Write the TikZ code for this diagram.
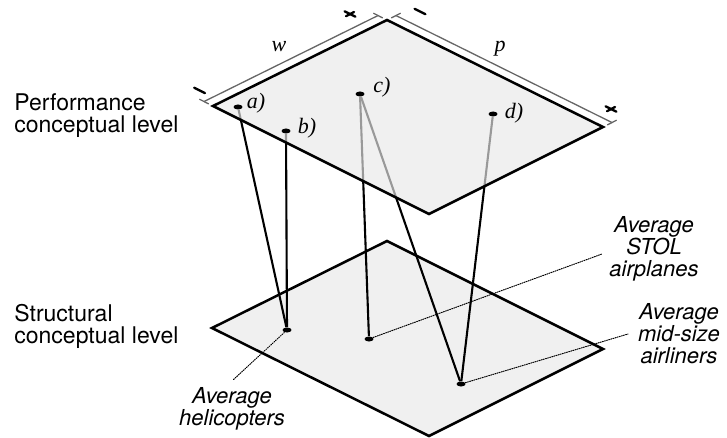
\documentclass[tikz,border=0pt]{standalone}
\usepackage{fontspec}
\setmainfont{TeX Gyre Heros}
\newfontfamily\labelfont{Liberation Serif}
\usetikzlibrary{shapes.geometric}

\pgfdeclarelayer{below}
\pgfdeclarelayer{plane}
\pgfsetlayers{below,plane,main}

\tikzset{
  level/.style={line width=1.25pt, line join=miter},
  rod/.style={line width=1.05pt},
  seen/.style={line width=1.05pt, black!40},
  dimline/.style={black!60, line width=0.65pt},
  sign/.style={line width=1.15pt},
  dot/.style={ellipse, fill=black, inner sep=0pt, minimum width=4.5pt, minimum height=2.5pt},
  ptlabel/.style={font=\labelfont\itshape\fontsize{11}{11}\selectfont, inner sep=0pt},
  levellabel/.style={font=\fontsize{11.5}{11}\selectfont, align=left, inner sep=0pt, anchor=west},
  note/.style={font=\itshape\fontsize{11}{11}\selectfont, align=center, inner sep=0pt},
  leader/.style={line width=0.5pt, dash pattern=on 0.5pt off 0.6pt}
}

\begin{document}
\begin{tikzpicture}[x=0.5pt,y=-0.5pt,line cap=round]
\useasboundingbox (0,0) rectangle (727,438);

% --- Corners of the two levels ---
\coordinate (uL) at (213,106);
\coordinate (uT) at (387,20);
\coordinate (uR) at (603,127);
\coordinate (uB) at (429,214);
\coordinate (lL) at (212,328);
\coordinate (lT) at (387,241);
\coordinate (lR) at (603,349);
\coordinate (lB) at (429,436);

% --- Points ---
\node[dot] (a) at (238,107) {};
\node[dot] (b) at (286,131) {};
\node[dot] (c) at (360,94) {};
\node[dot] (d) at (493,114) {};
\node[dot] (heli) at (287,330) {};
\node[dot] (stol) at (369,339) {};
\node[dot] (air) at (461,384) {};

\node[ptlabel] (la) at (256,103) {a)};
\node[ptlabel] (lb) at (307,128) {b)};
\node[ptlabel] (lc) at (382,87) {c)};
\node[ptlabel] (ld) at (514,113) {d)};

% --- Lower level and rods ---
\begin{pgfonlayer}{below}
\draw[level, fill=black!6] (lL) -- (lT) -- (lR) -- (lB) -- cycle;
\foreach \s/\t in {a/heli,b/heli,c/stol,c/air,d/air}
  \draw[rod] (\s) -- (\t);
\end{pgfonlayer}

% --- Upper level (rods seen through it) ---
\begin{pgfonlayer}{plane}
\fill[black!6] (uL) -- (uT) -- (uR) -- (uB) -- cycle;
\begin{scope}
  \clip (uL) -- (uT) -- (uR) -- (uB) -- cycle;
  \foreach \s/\t in {a/heli,b/heli,c/stol,c/air,d/air}
    \draw[seen] (\s) -- (\t);
\end{scope}
\draw[level] (uL) -- (uT) -- (uR) -- (uB) -- cycle;
\end{pgfonlayer}

% --- Dimensions w and p ---
\draw[dimline] (204.1,101.5) -- (378.1,15.5);
\draw[dimline] (208.5,103.8) -- (199.6,99.3);
\draw[dimline] (382.5,17.8) -- (373.6,13.3);
\draw[dimline] (395.9,15.5) -- (611.9,122.5);
\draw[dimline] (391.5,17.8) -- (400.4,13.3);
\draw[dimline] (607.5,124.8) -- (616.4,120.3);
\node[ptlabel] (w) at (279,47) {w};
\node[ptlabel] (p) at (500,49) {p};

% --- Signs ---
\draw[sign] (194.2,87.7) -- (205,93.1);
\draw[sign] (344.6,11.3) -- (355.4,16.7);
\draw[sign] (346,16.2) -- (354,12);
\draw[sign] (414.6,8.8) -- (425.4,14.2);
\draw[sign] (605.6,106.3) -- (616.4,111.7);
\draw[sign] (607,111.2) -- (615,107);

% --- Level names ---
\node[levellabel] (perf) at (14,115.5) {Performance\\conceptual level};
\node[levellabel] (struct) at (14,326) {Structural\\conceptual level};

% --- Notes ---
\node[note] (heli-note) at (232,409) {Average\\helicopters};
\node[note] (stol-note) at (654,249) {Average\\STOL\\airplanes};
\node[note] (air-note) at (679,334) {Average\\mid-size\\airliners};
\coordinate (heli-end) at (233,380);
\coordinate (stol-end) at (602,254);
\coordinate (air-end) at (628,334);
\draw[leader] (heli) -- (heli-end);
\draw[leader] (stol) -- (stol-end);
\draw[leader] (air) -- (air-end);

\end{tikzpicture}
\end{document}
